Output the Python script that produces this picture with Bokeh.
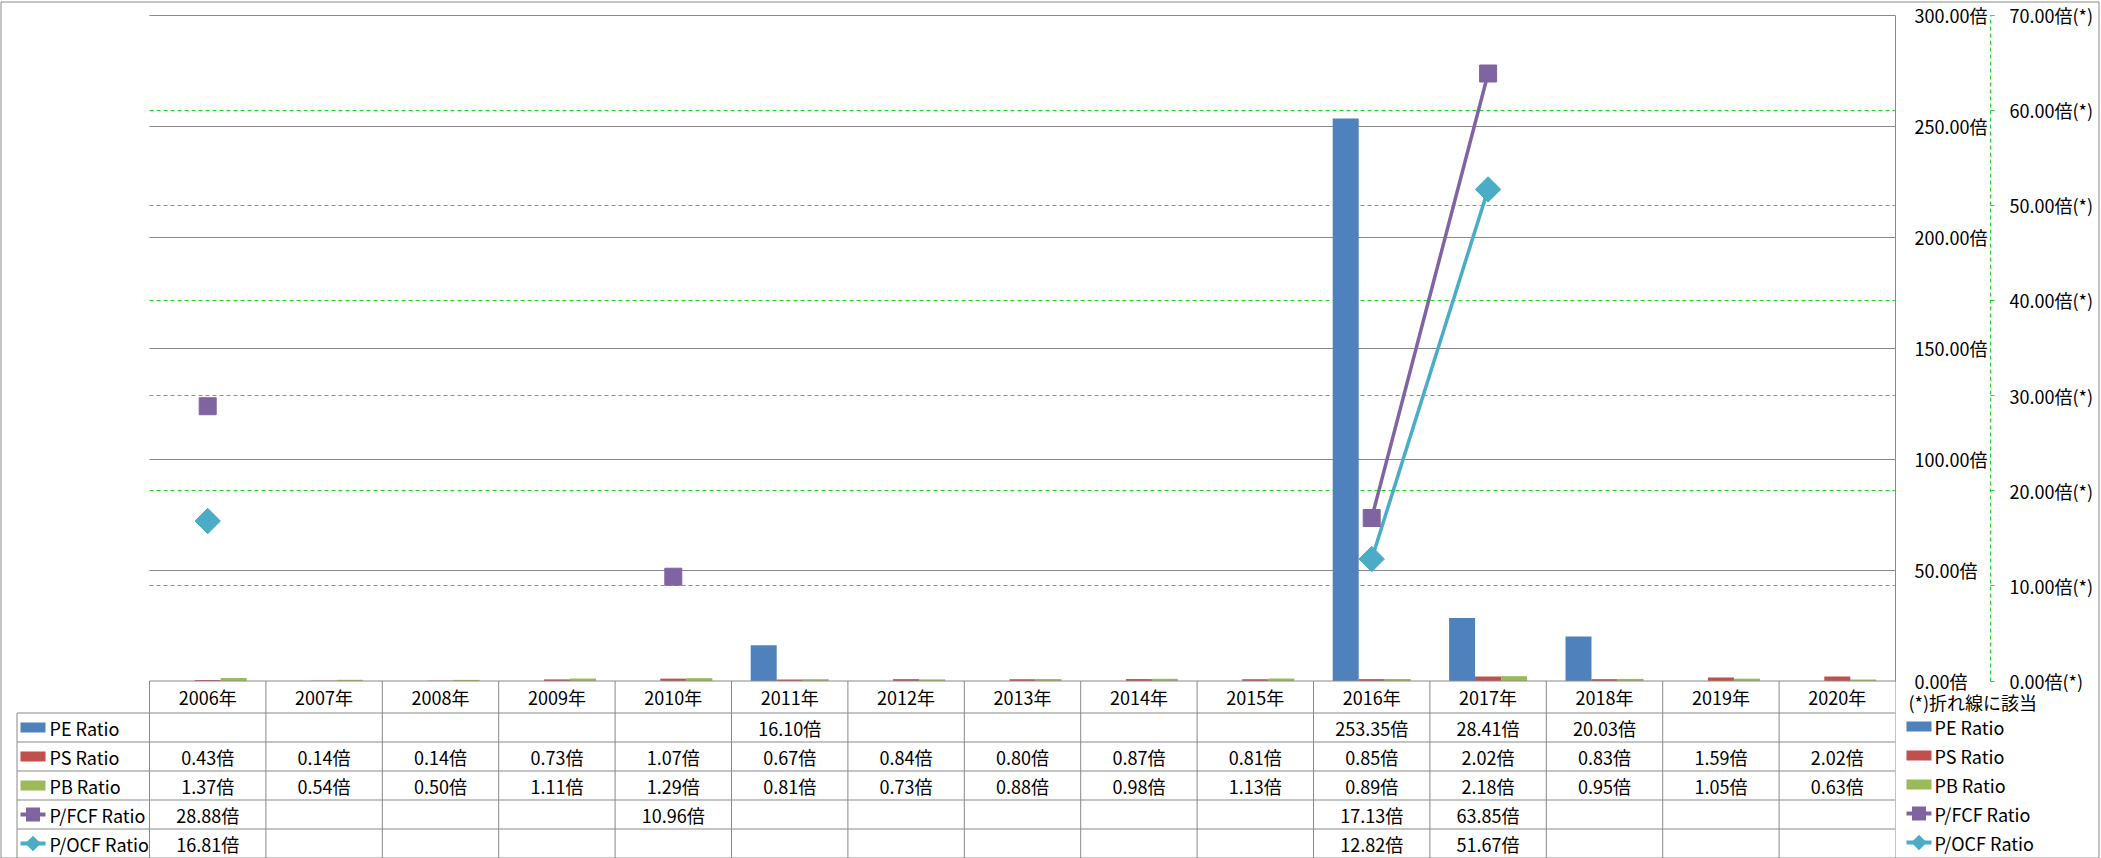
import numpy as np
from bokeh.plotting import figure
from bokeh.models import Range1d, LinearAxis, FixedTicker, PrintfTickFormatter, Grid, ColumnDataSource
from bokeh.transform import dodge
from bokeh.core.properties import value
from bokeh.embed import file_html
from bokeh.resources import INLINE

nan = float("nan")

# ---------------- data ----------------
years = ["2006年", "2007年", "2008年", "2009年", "2010年", "2011年", "2012年", "2013年",
         "2014年", "2015年", "2016年", "2017年", "2018年", "2019年", "2020年"]
pe_ratio = [nan, nan, nan, nan, nan, 16.10, nan, nan, nan, nan, 253.35, 28.41, 20.03, nan, nan]
ps_ratio = [0.43, 0.14, 0.14, 0.73, 1.07, 0.67, 0.84, 0.80, 0.87, 0.81, 0.85, 2.02, 0.83, 1.59, 2.02]
pb_ratio = [1.37, 0.54, 0.50, 1.11, 1.29, 0.81, 0.73, 0.88, 0.98, 1.13, 0.89, 2.18, 0.95, 1.05, 0.63]
pfcf_ratio = [28.88, nan, nan, nan, 10.96, nan, nan, nan, nan, nan, 17.13, 63.85, nan, nan, nan]
pocf_ratio = [16.81, nan, nan, nan, nan, nan, nan, nan, nan, nan, 12.82, 51.67, nan, nan, nan]
series_names = ["PE Ratio", "PS Ratio", "PB Ratio", "P/FCF Ratio", "P/OCF Ratio"]
primary_ticks = [0, 50, 100, 150, 200, 250, 300]
secondary_ticks = [0, 10, 20, 30, 40, 50, 60, 70]
note_text = "(*)折れ線に該当"

# ---------------- styling / layout ----------------
FONT_NAME = "Noto Sans CJK JP"
FONT = value(FONT_NAME)
FS = "18px"
C_PE, C_PS, C_PB, C_FCF, C_OCF = "#4F81BD", "#C0504D", "#9BBB59", "#8064A2", "#4BACC6"
GREY = "#898989"
GREEN = "#1EDC1E"
W, H = 2101, 858
FRAME_R = 1895
PLOT_L = 149
PLOT_T = 14.5
PLOT_B = 680.5
n = len(years)
cat_w = (FRAME_R - PLOT_L) / n
pri_scale = (PLOT_B - PLOT_T) / primary_ticks[-1]
sec_scale = (PLOT_B - PLOT_T) / secondary_ticks[-1]


def px2x(px):
    return (px - PLOT_L) / cat_w


p = figure(width=W, height=H, output_backend="svg", toolbar_location=None,
           x_range=Range1d(px2x(0), n),
           y_range=Range1d(-(H - PLOT_B) / pri_scale, primary_ticks[-1] + PLOT_T / pri_scale),
           x_axis_location=None, y_axis_location=None,
           min_border_left=0, min_border_top=0, min_border_bottom=0, min_border_right=W - FRAME_R)
p.extra_y_ranges = {
    "sec": Range1d(-(H - PLOT_B) / sec_scale, secondary_ticks[-1] + PLOT_T / sec_scale),
    "tbl": Range1d(H, 0),
}
p.outline_line_color = None
p.background_fill_color = "white"
p.border_fill_color = "white"
p.center = []  # drop default grids

# grids
p.add_layout(Grid(dimension=1, ticker=FixedTicker(ticks=primary_ticks[1:]), grid_line_color=GREY,
                  grid_line_width=1, cross_bounds=(0, n)))
p.add_layout(Grid(dimension=1, y_range_name="sec", ticker=FixedTicker(ticks=secondary_ticks[1:-1]),
                  grid_line_color=GREEN, grid_line_dash="4 3", grid_line_width=1, cross_bounds=(0, n)))

# axes
ax1 = LinearAxis(ticker=FixedTicker(ticks=primary_ticks), formatter=PrintfTickFormatter(format="%.2f倍"),
                 bounds=(primary_ticks[0], primary_ticks[-1]), axis_line_color=GREY,
                 major_tick_out=0, major_tick_in=0, minor_tick_out=0, minor_tick_in=0,
                 major_tick_line_color=None, minor_tick_line_color=None, major_label_standoff=19,
                 major_label_text_font=FONT_NAME, major_label_text_font_size=FS, major_label_text_color="#000000")
ax2 = LinearAxis(y_range_name="sec", ticker=FixedTicker(ticks=secondary_ticks),
                 formatter=PrintfTickFormatter(format="%.2f倍(*)"),
                 bounds=(secondary_ticks[0], secondary_ticks[-1]), axis_line_color=GREEN, axis_line_dash="4 3",
                 major_tick_out=4, major_tick_in=0, minor_tick_out=0, minor_tick_in=0,
                 major_tick_line_color=GREEN, minor_tick_line_color=None, major_label_standoff=15,
                 major_label_text_font=FONT_NAME, major_label_text_font_size=FS, major_label_text_color="#000000")
p.add_layout(ax1, "right")
p.add_layout(ax2, "right")

# bars and lines
src = ColumnDataSource(dict(x=np.arange(n) + 0.5, years=years, pe=pe_ratio, ps=ps_ratio, pb=pb_ratio,
                            fcf=pfcf_ratio, ocf=pocf_ratio))
bw = 26 / cat_w
p.vbar(x=dodge("x", -bw), top="pe", width=bw, source=src, fill_color=C_PE, line_color=None)
p.vbar(x="x", top="ps", width=bw, source=src, fill_color=C_PS, line_color=None)
p.vbar(x=dodge("x", bw), top="pb", width=bw, source=src, fill_color=C_PB, line_color=None)
p.line(x="x", y="fcf", source=src, y_range_name="sec", line_color=C_FCF, line_width=3.5)
p.line(x="x", y="ocf", source=src, y_range_name="sec", line_color=C_OCF, line_width=3.5)
p.scatter(x="x", y="fcf", source=src, y_range_name="sec", marker="square", size=17,
          fill_color=C_FCF, line_color=C_FCF)
p.scatter(x="x", y="ocf", source=src, y_range_name="sec", marker="square", angle=np.pi / 4, size=18,
          fill_color=C_OCF, line_color=C_OCF)

# ---------------- data table ----------------
HDR_T, HDR_B = 680.5, 712.5
row_edges = [712.5, 741.5, 770.5, 799.5, 828.5, 857.5]
row_cy = [(a + b) / 2 for a, b in zip(row_edges[:-1], row_edges[1:])]
TBL_L = 16.5

hx0 = [px2x(TBL_L)] * 5
hx1 = [n] * 5
p.segment(x0=hx0, x1=hx1, y0=row_edges[:-1], y1=row_edges[:-1], y_range_name="tbl",
          line_color=GREY, line_width=1)
p.segment(x0=[0], x1=[n], y0=[HDR_T], y1=[HDR_T], y_range_name="tbl", line_color=GREY, line_width=1)
vx = list(range(n + 1))
p.segment(x0=vx, x1=vx, y0=[HDR_T] * len(vx), y1=[H] * len(vx), y_range_name="tbl",
          line_color=GREY, line_width=1)
p.segment(x0=[px2x(TBL_L)], x1=[px2x(TBL_L)], y0=[row_edges[0]], y1=[H], y_range_name="tbl",
          line_color=GREY, line_width=1)

txt = dict(text_font=FONT, text_font_size=FS, text_color="#000000", text_baseline="middle",
           y_range_name="tbl")
p.text(x="x", y=(HDR_T + HDR_B) / 2, text="years", source=src, text_align="center", **txt)
all_series = [pe_ratio, ps_ratio, pb_ratio, pfcf_ratio, pocf_ratio]
for vals, cy in zip(all_series, row_cy):
    labels = ["" if np.isnan(v) else f"{v:.2f}倍" for v in vals]
    p.text(x=np.arange(n) + 0.5, y=cy, text=labels, text_align="center", **txt)


def draw_keys(key_l, text_l, dy, level):
    kc = key_l + 12.5
    cys = [c + dy for c in row_cy]
    p.rect(x=[px2x(kc)] * 3, y=cys[:3], width=25, height=10, width_units="screen", height_units="screen",
           fill_color=[C_PE, C_PS, C_PB], line_color=None, y_range_name="tbl", level=level)
    p.segment(x0=[px2x(key_l)] * 2, x1=[px2x(key_l + 25)] * 2, y0=cys[3:], y1=cys[3:],
              line_color=[C_FCF, C_OCF], line_width=4, y_range_name="tbl", level=level)
    p.rect(x=[px2x(kc)] * 2, y=cys[3:], width=[14, 11], height=[14, 11], angle=[0, np.pi / 4],
           width_units="screen", height_units="screen", fill_color=[C_FCF, C_OCF], line_color=None,
           y_range_name="tbl", level=level)
    p.text(x=[px2x(text_l)] * 5, y=cys, text=series_names, text_align="left", level=level, **txt)


draw_keys(20, 49, 0, "glyph")
draw_keys(1906, 1934, -1, "annotation")
p.text(x=[px2x(1908)], y=[701.5], text=[note_text], text_align="left", level="annotation", **txt)

# outer border
bx = [px2x(0.5), px2x(2098.5), px2x(2098.5), px2x(0.5), px2x(0.5)]
by = [1.5, 1.5, 857.5, 857.5, 1.5]
p.line(x=bx, y=by, y_range_name="tbl", line_color=GREY, line_width=1, level="annotation")

open("out.html", "w").write(file_html(p, INLINE))
